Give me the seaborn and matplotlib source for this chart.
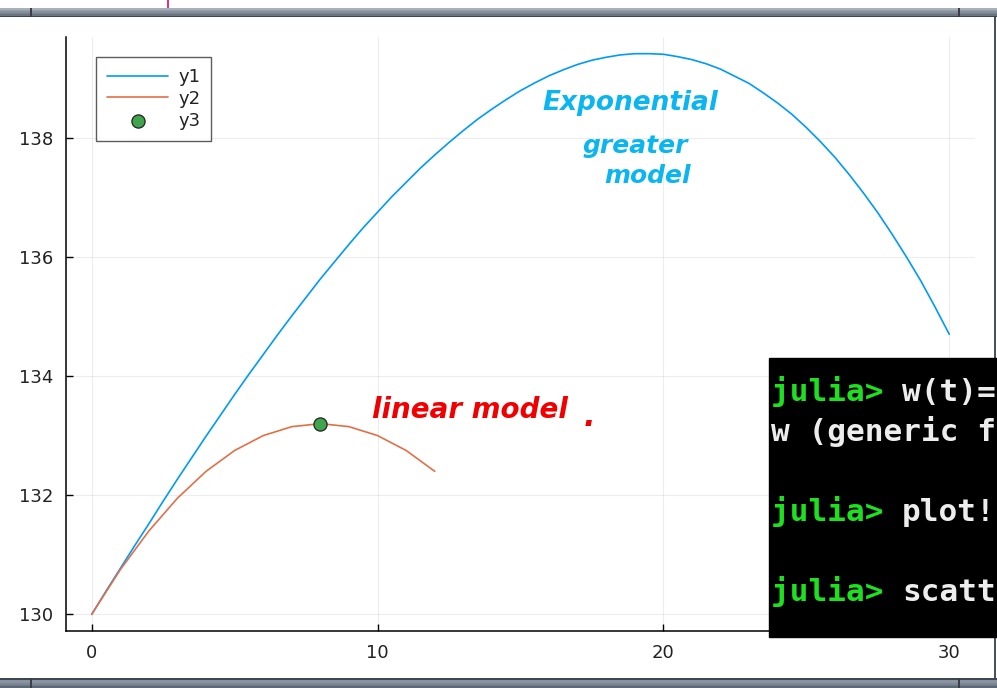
import pandas as pd
import matplotlib.pyplot as plt
import seaborn as sns
from matplotlib.patches import Rectangle

# ======================
# DATA
# ======================
T1 = [i / 2 for i in range(61)]
Y1 = [130.00, 130.39, 130.77, 131.15, 131.52, 131.90, 132.27, 132.63, 132.99, 133.34,
      133.69, 134.03, 134.36, 134.69, 135.01, 135.32, 135.63, 135.92, 136.21, 136.49,
      136.75, 137.01, 137.25, 137.49, 137.71, 137.92, 138.12, 138.31, 138.48, 138.64,
      138.79, 138.92, 139.04, 139.14, 139.23, 139.30, 139.35, 139.39, 139.41, 139.41,
      139.40, 139.36, 139.31, 139.24, 139.15, 139.03, 138.91, 138.75, 138.58, 138.39,
      138.17, 137.93, 137.67, 137.38, 137.07, 136.74, 136.38, 136.00, 135.60, 135.16,
      134.70]
T2 = list(range(0, 13))
Y2 = [130.00, 130.75, 131.40, 131.95, 132.40, 132.75, 133.00, 133.15, 133.20, 133.15,
      133.00, 132.75, 132.40]
T3 = [8]
Y3 = [133.2]
LABELS = ["y1", "y2", "y3"]
XTICKS = [0, 10, 20, 30]
YTICKS = [130, 132, 134, 136, 138]

# what is visible of the REPL window
TERM_PROMPTS = ["julia> ", "", "julia> ", "julia> "]
TERM_REST = ["w(t)=", "w (generic f", "plot!", "scatt"]

C1, C2, C3 = "#009AFA", "#E36F47", "#3EA44E"

W, H = 997, 688


def fx(px):
    return px / W


def fy(py):
    return 1 - py / H


# ======================
# PLOT
# ======================
sns.set_theme(style="white")
plt.rcParams["font.family"] = ["DejaVu Sans"]

fig = plt.figure(figsize=(W / 100, H / 100), dpi=100)
ax = fig.add_axes([fx(66), fy(631), fx(975 - 66), (631 - 37) / H])

df1 = pd.DataFrame({"t": T1, "y": Y1})
df2 = pd.DataFrame({"t": T2, "y": Y2})
df3 = pd.DataFrame({"t": T3, "y": Y3})

sns.lineplot(data=df1, x="t", y="y", ax=ax, color=C1, lw=1.2, label=LABELS[0])
sns.lineplot(data=df2, x="t", y="y", ax=ax, color=C2, lw=1.2, label=LABELS[1])
sns.scatterplot(data=df3, x="t", y="y", ax=ax, color=C3, s=90, edgecolor="#222222",
                linewidth=0.9, label=LABELS[2], zorder=5)

ax.set_xlim(-0.9, 30.9)
ax.set_ylim(129.72, 139.69)
ax.set_xticks(XTICKS)
ax.set_yticks(YTICKS)
ax.set_xlabel("")
ax.set_ylabel("")
ax.grid(True, color="black", alpha=0.07, lw=0.8)
for s in ["top", "right"]:
    ax.spines[s].set_visible(False)
for s in ["left", "bottom"]:
    ax.spines[s].set_color("black")
    ax.spines[s].set_linewidth(1.1)
ax.tick_params(direction="in", length=5, width=1, color="black", labelsize=13,
               labelcolor="#222222", left=True, bottom=True, pad=9)

leg = ax.legend(loc="upper left", bbox_to_anchor=(fx(96), fy(57)), bbox_transform=fig.transFigure,
                borderaxespad=0, frameon=True, fancybox=False, fontsize=13,
                handlelength=3.4, handletextpad=0.55, labelspacing=0.22, borderpad=0.6)
leg.get_frame().set_edgecolor("#333333")
leg.get_frame().set_linewidth(1.0)
for t in leg.get_texts():
    t.set_color("#222222")

# handwritten notes
hand = dict(fontstyle="italic", fontweight="bold", ha="center", va="center")
fig.text(fx(630), fy(103), "Exponential", color="#0BB5F0", fontsize=19, **hand)
fig.text(fx(635), fy(146), "greater", color="#0BB5F0", fontsize=18, **hand)
fig.text(fx(648), fy(176), "model", color="#0BB5F0", fontsize=18, **hand)
fig.text(fx(470), fy(410), "linear model", color="#F00000", fontsize=20, **hand)
fig.text(fx(589), fy(418), ".", color="#F00000", fontsize=22, **hand)

# terminal overlay
fig.add_artist(Rectangle((fx(769), fy(637)), fx(W - 769), (637 - 358) / H,
                         transform=fig.transFigure, color="black", zorder=10))
term_size = 22.4
baselines = [401, 441, 521, 601]
char_w = 0.602 * term_size * 100 / 72
for p, r, b in zip(TERM_PROMPTS, TERM_REST, baselines):
    fig.text(fx(771), fy(b), p, color="#1FE01F", fontsize=term_size, fontweight="bold",
             family="DejaVu Sans Mono", va="baseline", zorder=11)
    fig.text(fx(771 + char_w * len(p)), fy(b), r, color="#EDEDED", fontsize=term_size,
             fontweight="bold", family="DejaVu Sans Mono", va="baseline", zorder=11)


# window chrome
def bar(top, bottom, colors):
    n = len(colors)
    h = (bottom - top) / n
    for i, c in enumerate(colors):
        fig.add_artist(Rectangle((0, fy(top + (i + 1) * h)), 1, h / H,
                                 transform=fig.transFigure, color=c, lw=0, zorder=12))


bar(8, 17, ["#a7b0bb", "#959fab", "#86909c", "#78828e", "#6a7480", "#3f464f"])
bar(678, 688, ["#3f464f", "#8a94a0", "#8a94a0", "#7c8692", "#6e7884", "#5e6874"])
for xn in [30, 958]:
    fig.add_artist(Rectangle((fx(xn), fy(17)), fx(2), 9 / H, transform=fig.transFigure,
                             color="#3a4048", lw=0, zorder=13))
    fig.add_artist(Rectangle((fx(xn), fy(688)), fx(2), 10 / H, transform=fig.transFigure,
                             color="#3a4048", lw=0, zorder=13))
fig.add_artist(Rectangle((fx(994), fy(678)), fx(2), (678 - 17) / H, transform=fig.transFigure,
                         color="#4a525c", lw=0, zorder=9))
fig.add_artist(Rectangle((fx(167), fy(8)), fx(2), 8 / H, transform=fig.transFigure,
                         color="#E0308A", lw=0, zorder=12))

fig.savefig("out.png", dpi=100)
